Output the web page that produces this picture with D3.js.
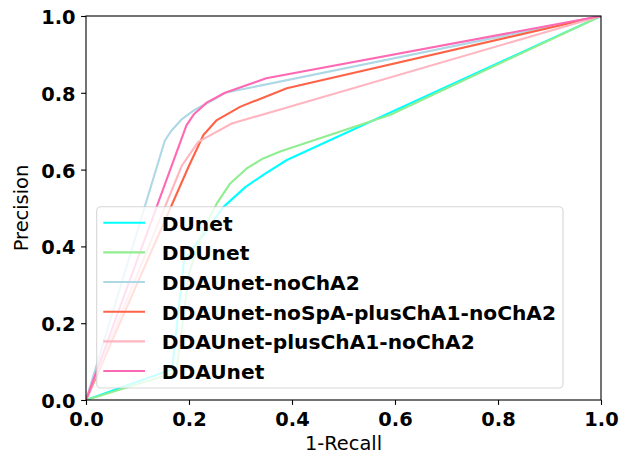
<!DOCTYPE html>
<html>
<head>
<meta charset="utf-8">
<script src="https://cdn.jsdelivr.net/npm/d3@7"></script>
<style>
  html, body { margin: 0; padding: 0; background: #fff; }
  svg { display: block; }
  text { font-family: "DejaVu Sans", sans-serif; }
</style>
</head>
<body>
<svg id="chart" width="636" height="456"></svg>
<script>
// ---- data ----
const seriesNames = ["DUnet", "DDUnet", "DDAUnet-noChA2", "DDAUnet-noSpA-plusChA1-noChA2", "DDAUnet-plusChA1-noChA2", "DDAUnet"];
const seriesColors = ["#00ffff", "#90ee90", "#add8e6", "#ff6347", "#ffb6c1", "#ff69b4"];

const dunetX   = [0, 0.167, 0.19, 0.21, 0.228, 0.267, 0.31, 0.345, 0.39, 1];
const dunetY   = [0, 0.08, 0.36, 0.40, 0.43, 0.503, 0.555, 0.587, 0.625, 1];
const ddunetX  = [0, 0.175, 0.20, 0.228, 0.254, 0.28, 0.312, 0.344, 0.377, 0.59, 1];
const ddunetY  = [0, 0.072, 0.33, 0.445, 0.512, 0.564, 0.603, 0.629, 0.647, 0.742, 1];
const noChA2X  = [0, 0.153, 0.165, 0.185, 0.21, 0.245, 0.27, 1];
const noChA2Y  = [0, 0.675, 0.70, 0.73, 0.755, 0.78, 0.80, 1];
const noSpAX   = [0, 0.20, 0.228, 0.254, 0.30, 0.39, 1];
const noSpAY   = [0, 0.61, 0.69, 0.729, 0.764, 0.812, 1];
const plusX    = [0, 0.186, 0.218, 0.283, 1];
const plusY    = [0, 0.61, 0.672, 0.72, 1];
const ddaX     = [0, 0.195, 0.21, 0.235, 0.27, 0.35, 1];
const ddaY     = [0, 0.715, 0.745, 0.775, 0.80, 0.838, 1];

const tickValues = [0, 0.2, 0.4, 0.6, 0.8, 1.0];
const xLabel = "1-Recall";
const yLabel = "Precision";

const seriesX = [dunetX, ddunetX, noChA2X, noSpAX, plusX, ddaX];
const seriesY = [dunetY, ddunetY, noChA2Y, noSpAY, plusY, ddaY];

// ---- layout ----
const L = 86, R = 601, T = 16, B = 400;
const svg = d3.select("#chart");
const x = d3.scaleLinear().domain([0, 1]).range([L, R]);
const y = d3.scaleLinear().domain([0, 1]).range([B, T]);

svg.append("defs").append("clipPath").attr("id", "clip")
  .append("rect").attr("x", L).attr("y", T).attr("width", R - L).attr("height", B - T);

const line = d3.line().x(d => x(d[0])).y(d => y(d[1]));
const gLines = svg.append("g").attr("clip-path", "url(#clip)");
seriesNames.forEach((name, i) => {
  const pts = seriesX[i].map((v, j) => [v, seriesY[i][j]]);
  gLines.append("path").datum(pts)
    .attr("d", line)
    .attr("fill", "none")
    .attr("stroke", seriesColors[i])
    .attr("stroke-width", 2.1)
    .attr("stroke-linejoin", "round")
    .attr("stroke-linecap", "butt");
});

// frame
svg.append("rect").attr("x", L).attr("y", T).attr("width", R - L).attr("height", B - T)
  .attr("fill", "none").attr("stroke", "#000").attr("stroke-width", 1.1);

// axes
const fmt = d3.format(".1f");
const xAxis = svg.append("g").attr("transform", `translate(0,${B})`)
  .call(d3.axisBottom(x).tickValues(tickValues).tickFormat(fmt).tickSize(4.9).tickPadding(6));
const yAxis = svg.append("g").attr("transform", `translate(${L},0)`)
  .call(d3.axisLeft(y).tickValues(tickValues).tickFormat(fmt).tickSize(4.9).tickPadding(5));
[xAxis, yAxis].forEach(a => {
  a.select(".domain").remove();
  a.selectAll(".tick line").attr("stroke", "#000").attr("stroke-width", 1.1);
  a.selectAll(".tick text").attr("fill", "#000")
    .style("font-family", "'DejaVu Sans', sans-serif")
    .style("font-size", "19.4px").style("font-weight", "bold");
});
xAxis.selectAll(".tick text").attr("dy", null).attr("y", 25.7).attr("dominant-baseline", null);
yAxis.selectAll(".tick text").attr("dy", null).attr("x", -10.5).attr("y", 7.5);

svg.append("text").attr("x", (L + R) / 2).attr("y", 450)
  .attr("text-anchor", "middle").style("font-size", "19.4px").attr("fill", "#000").text(xLabel);
svg.append("text").attr("transform", `translate(27.5,${(T + B) / 2}) rotate(-90)`)
  .attr("text-anchor", "middle").style("font-size", "19.4px").attr("fill", "#000").text(yLabel);

// legend
const lg = svg.append("g");
lg.append("rect").attr("x", 96.7).attr("y", 206.7).attr("width", 466.3).attr("height", 181.3)
  .attr("rx", 4).attr("ry", 4)
  .attr("fill", "#fff").attr("fill-opacity", 0.8)
  .attr("stroke", "#cccccc").attr("stroke-opacity", 0.8).attr("stroke-width", 1.1);
const rowY = d3.scaleLinear().domain([0, 5]).range([222.7, 371]);
seriesNames.forEach((name, i) => {
  const ry = rowY(i);
  lg.append("line").attr("x1", 103.3).attr("x2", 145).attr("y1", ry).attr("y2", ry)
    .attr("stroke", seriesColors[i]).attr("stroke-width", 2.1);
  lg.append("text").attr("x", 161.7).attr("y", ry + 8)
    .style("font-size", "20.2px").style("font-weight", "bold").attr("fill", "#000").text(name);
});
</script>
</body>
</html>
